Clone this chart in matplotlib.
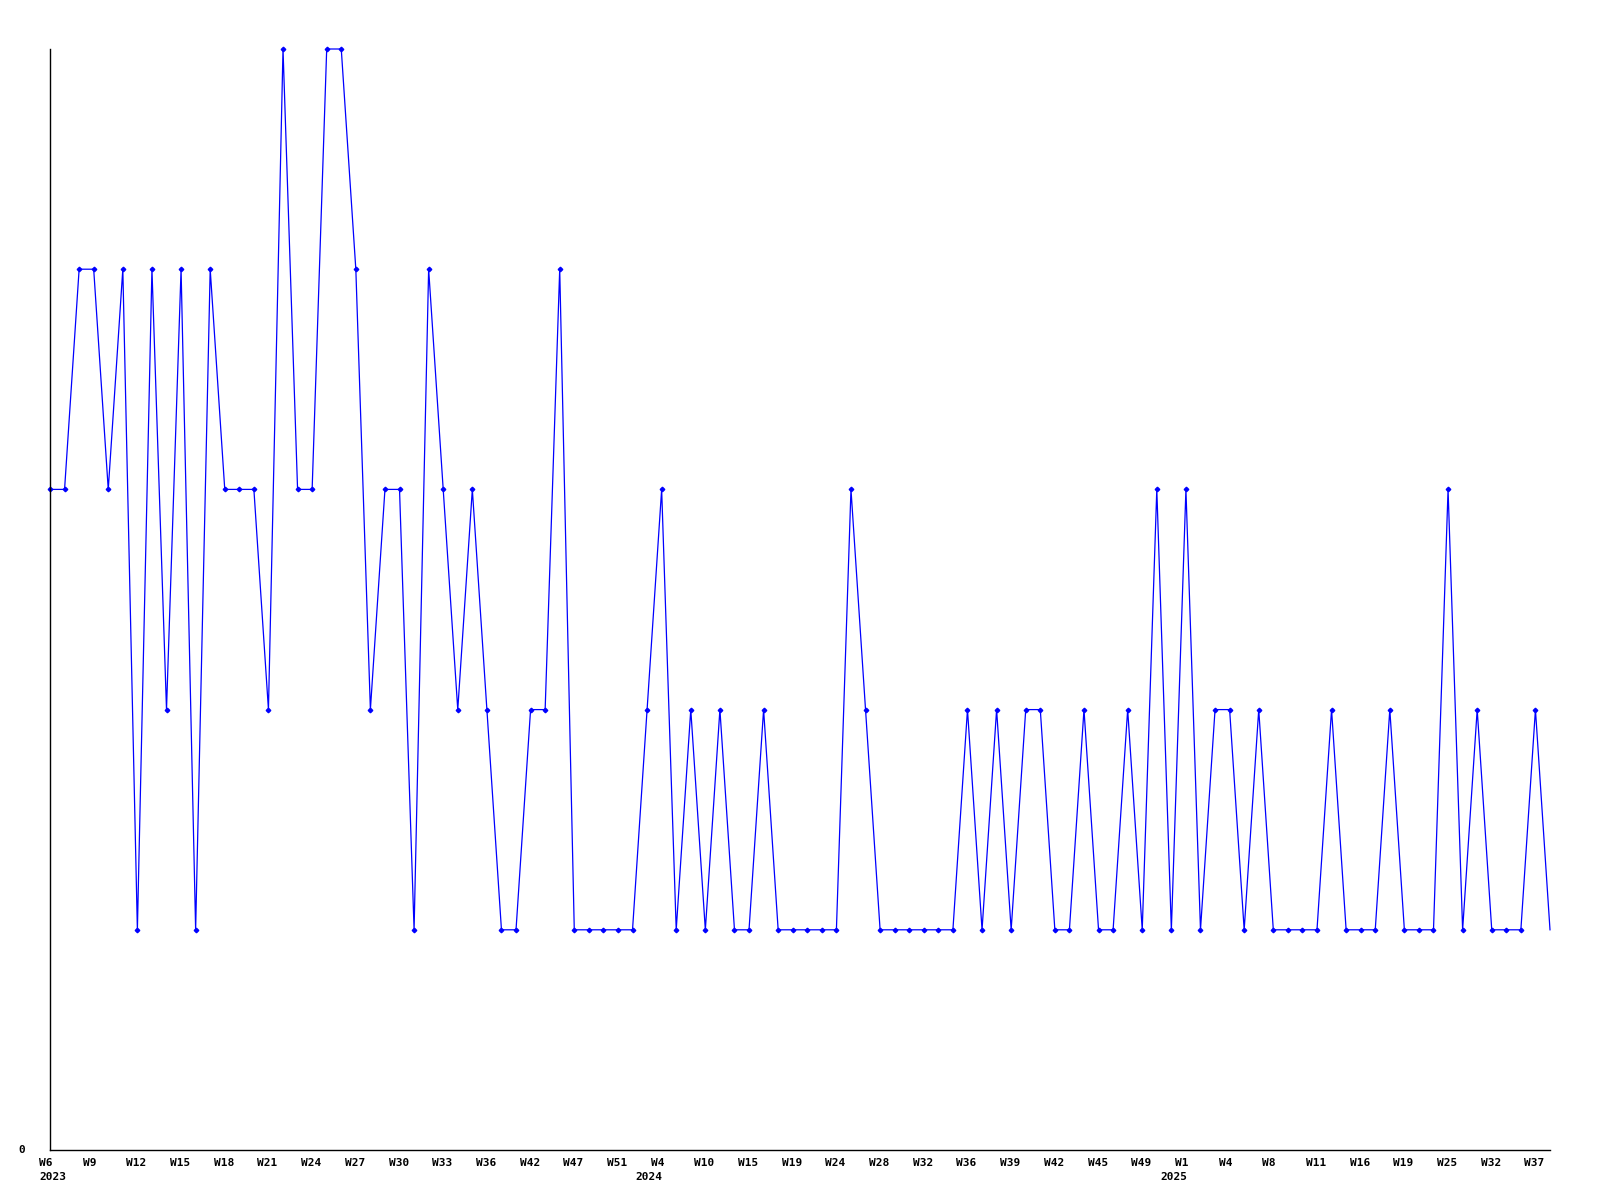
import matplotlib
matplotlib.use("Agg")
import matplotlib.pyplot as plt
import matplotlib.transforms as mtransforms

# weekly values, one per point
values = [3, 3, 4, 4, 3, 4, 1, 4, 2, 4, 1, 4, 3, 3, 3, 2, 5, 3, 3, 5,
          5, 4, 2, 3, 3, 1, 4, 3, 2, 3, 2, 1, 1, 2, 2, 4, 1, 1, 1, 1,
          1, 2, 3, 1, 2, 1, 2, 1, 1, 2, 1, 1, 1, 1, 1, 3, 2, 1, 1, 1,
          1, 1, 1, 2, 1, 2, 1, 2, 2, 1, 1, 2, 1, 1, 2, 1, 3, 1, 3, 1,
          2, 2, 1, 2, 1, 1, 1, 1, 2, 1, 1, 1, 2, 1, 1, 1, 3, 1, 2, 1,
          1, 1, 2, 1]

# labels on every third point
week_labels = ["W6", "W9", "W12", "W15", "W18", "W21", "W24", "W27", "W30",
               "W33", "W36", "W42", "W47", "W51", "W4", "W10", "W15", "W19",
               "W24", "W28", "W32", "W36", "W39", "W42", "W45", "W49", "W1",
               "W4", "W8", "W11", "W16", "W19", "W25", "W32", "W37"]
year_labels = {0: "2023", 42: "2024", 78: "2025"}

fig = plt.figure(figsize=(16, 12), dpi=100)
ax = fig.add_axes([50 / 1600, 50 / 1200, 1500 / 1600, 1101 / 1200])

x = list(range(len(values)))
ax.plot(x, values, color="#0000ff", linewidth=0.9, marker="D", markersize=2.3,
        markevery=list(range(len(values) - 1)), clip_on=False)

ax.set_xlim(0, len(values) - 1)
ax.set_ylim(0, 5)
ax.set_xticks([])
ax.set_yticks([])
for side in ["top", "right"]:
    ax.spines[side].set_visible(False)
for side in ["left", "bottom"]:
    ax.spines[side].set_color("black")
    ax.spines[side].set_linewidth(1.0)

font = dict(family="DejaVu Sans Mono", fontweight="bold", fontsize=8, color="black")
blend = mtransforms.blended_transform_factory(ax.transData, ax.transAxes)

def offset(dx, dy):
    return blend + mtransforms.ScaledTranslation(dx / 100, dy / 100, fig.dpi_scale_trans)

for i, lab in enumerate(week_labels):
    ax.text(i * 3, 0, lab, transform=offset(-11, -8), ha="left", va="top", **font)

for idx, yr in year_labels.items():
    if idx == 0:
        ax.text(idx, 0, yr, transform=offset(-11, -22.5), ha="left", va="top", **font)
    else:
        ax.text(idx, 0, yr, transform=offset(1, -22.5), ha="right", va="top", **font)

ax.text(0, 0, "0", transform=ax.transData + mtransforms.ScaledTranslation(-25 / 100, 0, fig.dpi_scale_trans),
        ha="right", va="center", **font)

fig.savefig("out.png", dpi=100, facecolor="white")
